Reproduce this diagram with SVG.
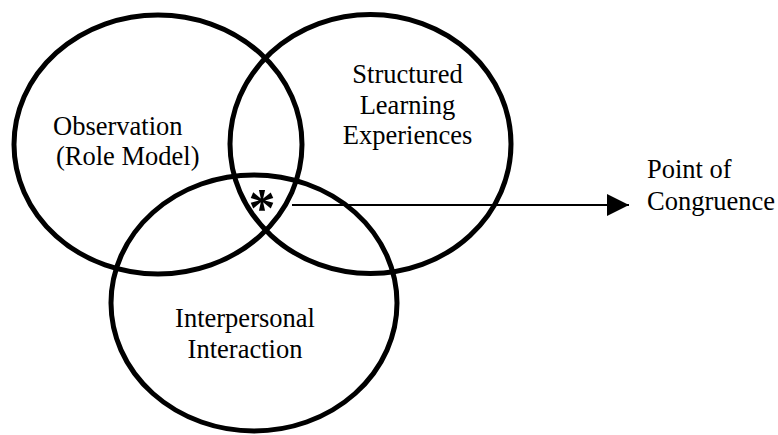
<svg xmlns="http://www.w3.org/2000/svg" width="778" height="435" viewBox="0 0 778 435">
  <style>
    .ring { fill: none; stroke: #000; stroke-width: 5; }
    .label { font-family: "Liberation Serif", "Times New Roman", serif; font-size: 26.5px; fill: #000; }
    .mid { text-anchor: middle; }
    .star { font-family: "Liberation Serif", "Times New Roman", serif; font-size: 54px; font-weight: bold; text-anchor: middle; fill: #000; }
    .link { stroke: #000; stroke-width: 2; fill: none; }
  </style>
  <defs>
    <marker id="arrow" markerUnits="userSpaceOnUse" markerWidth="24" markerHeight="24" refX="22" refY="12" orient="auto">
      <polygon points="0,1 22,12 0,23" fill="#000"/>
    </marker>
  </defs>
  <rect width="778" height="435" fill="#fff"/>

  <g id="observation">
    <ellipse class="ring" cx="158" cy="144.5" rx="144" ry="129.5"/>
    <text class="label" x="53" y="135">Observation</text>
    <text class="label" x="56" y="165">(Role Model)</text>
  </g>

  <g id="structured-learning">
    <ellipse class="ring" cx="370.5" cy="144" rx="140.5" ry="129.5"/>
    <text class="label mid" x="407.5" y="83">Structured</text>
    <text class="label mid" x="407.5" y="113.5">Learning</text>
    <text class="label mid" x="407.5" y="144">Experiences</text>
  </g>

  <g id="interpersonal">
    <ellipse class="ring" cx="254" cy="303" rx="143" ry="128"/>
    <text class="label mid" x="245" y="327">Interpersonal</text>
    <text class="label mid" x="245" y="358">Interaction</text>
  </g>

  <g id="congruence">
    <text class="star" x="262" y="226">*</text>
    <text class="label" x="647" y="177.5">Point of</text>
    <text class="label" x="647" y="209.5">Congruence</text>
  </g>

  <g id="connectors">
    <line class="link" x1="292" y1="205" x2="629" y2="205" marker-end="url(#arrow)"/>
  </g>
</svg>
